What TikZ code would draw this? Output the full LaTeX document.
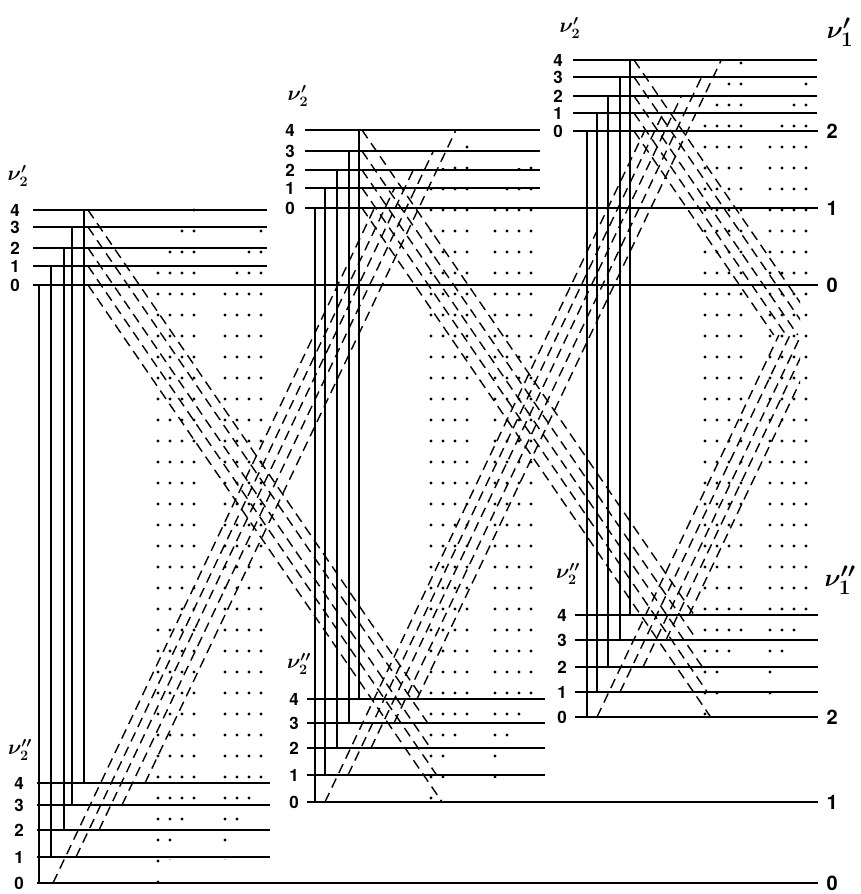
\documentclass[tikz,border=0pt]{standalone}
\usepackage{fontspec}
\setsansfont{TeX Gyre Heros}

\begin{document}
\begin{tikzpicture}[
  x=1pt, y=-1pt,
  level/.style={line width=2.6pt},
  band/.style={line width=1.4pt},
  seq/.style={line width=1.4pt, dash pattern=on 10pt off 6pt},
  dotline/.style={line width=3.4pt, line cap=round, dash pattern=on 0pt off 21pt},
  num/.style={font=\sffamily\bfseries\fontsize{17}{17}\selectfont},
  rnum/.style={font=\sffamily\bfseries\fontsize{20}{20}\selectfont, anchor=west},
  vlab/.style={font=\boldmath\fontsize{22}{22}\selectfont},
  Vlab/.style={font=\boldmath\fontsize{30}{30}\selectfont}
]
\useasboundingbox (0,0) rectangle (861,894);

% heights of v2 = 0..4 for v1 = 0,1,2 (last five: cut-off ends)
\def\yup{{285,266,248,227,210,208,188,170,151,130,131,113,96,77,60,335,335,335,335,335}}
\def\ylo{{883,857,830,805,783,802,775,748,723,699,717,692,667,640,615,335,335,335,335,335}}
\def\xband{{39,51,64,72,84,315,325,337,349,359,587,597,608,620,630}}

% upper levels
\foreach \b/\xl/\xr/\xn in {0/33/267/15, 1/305/540/290, 2/573/817/558}{
  \foreach \k in {0,...,4}{
    \pgfmathsetmacro\y{\yup[5*\b+\k]}
    \pgfmathsetmacro\xe{ifthenelse(\k==0,818,\xr)}
    \node[num] (u\b-\k) at (\xn,\y) {\k};
    \draw[level] (\xl,\y) -- (\xe,\y);
  }
}
% lower levels
\foreach \b/\xl/\xr/\xn in {0/37/270/19, 1/307/545/294, 2/575/818/562}{
  \foreach \k in {0,...,4}{
    \pgfmathsetmacro\y{\ylo[5*\b+\k]}
    \pgfmathsetmacro\xe{ifthenelse(\k==0,818,\xr)}
    \node[num] (l\b-\k) at (\xn,\y) {\k};
    \draw[level] (\xl,\y) -- (\xe,\y);
  }
}

% v2' -> v2'' with v2 kept
\foreach \b in {0,1,2}
  \foreach \k in {0,...,4}{
    \pgfmathsetmacro\x{\xband[5*\b+\k]}
    \pgfmathsetmacro\ya{\yup[5*\b+\k]}
    \pgfmathsetmacro\yb{\ylo[5*\b+\k]}
    \draw[band] (\x,\ya) -- (\x,\yb);
  }

% sequences to the next v1
\begin{scope}
\clip (0,0) rectangle (800,894);
\foreach \b/\xd/\xa in {0/88/53, 1/362/325, 2/634/597}
  \foreach \k in {0,...,4}{
    \pgfmathsetmacro\ya{\yup[5*\b+\k]}
    \pgfmathsetmacro\yb{\ylo[5*(\b+1)+\k]}
    \draw[seq] (\xd,\ya) -- ({\xd+(\yb-\ya)/1.46},\yb);
    \pgfmathsetmacro\xs{\xa+23*\k}
    \pgfmathsetmacro\ys{\ylo[5*\b+\k]}
    \pgfmathsetmacro\ye{\yup[5*(\b+1)+\k]}
    \draw[seq] (\xs,\ys) -- ({\xs+(\ys-\ye)/2.1},\ye);
  }
\end{scope}

% v2 changed by one
\foreach \b/\xp/\xq in {0/158/225, 1/431/495, 2/705/770}{
  \foreach \j in {1,...,4}{
    \pgfmathsetmacro\x{\xp+12*(\j-1)}
    \pgfmathsetmacro\ya{\yup[5*\b+\j]}
    \pgfmathsetmacro\yb{\ylo[5*\b+\j-1]}
    \begin{scope}
      \clip (\x-4,\ya-2) rectangle (\x+4,\yb+2);
      \draw[dotline] (\x,0) -- (\x,894);
    \end{scope}
  }
  \foreach \j in {0,...,3}{
    \pgfmathsetmacro\x{\xq+12*\j}
    \pgfmathsetmacro\ya{\yup[5*\b+\j]}
    \pgfmathsetmacro\yb{\ylo[5*\b+\j+1]}
    \begin{scope}
      \clip (\x-4,\ya-2) rectangle (\x+4,\yb+2);
      \draw[dotline] (\x,0) -- (\x,894);
    \end{scope}
  }
}

% labels
\node[vlab] (vuA) at (18,176) {$\nu_2'$};
\node[vlab] (vuB) at (298,96) {$\nu_2'$};
\node[vlab] (vuC) at (570,28) {$\nu_2'$};
\node[vlab] (vlA) at (20,750) {$\nu_2''$};
\node[vlab] (vlB) at (299,664) {$\nu_2''$};
\node[vlab] (vlC) at (568,574) {$\nu_2''$};
\node[Vlab] (Vu) at (840,32) {$\nu_1'$};
\node[Vlab] (Vl) at (840,580) {$\nu_1''$};
\foreach \n/\y in {2/131, 1/208, 0/285}
  \node[rnum] (ru\n) at (823,\y) {\n};
\foreach \n/\y in {2/717, 1/802, 0/883}
  \node[rnum] (rl\n) at (823,\y) {\n};
\end{tikzpicture}
\end{document}
